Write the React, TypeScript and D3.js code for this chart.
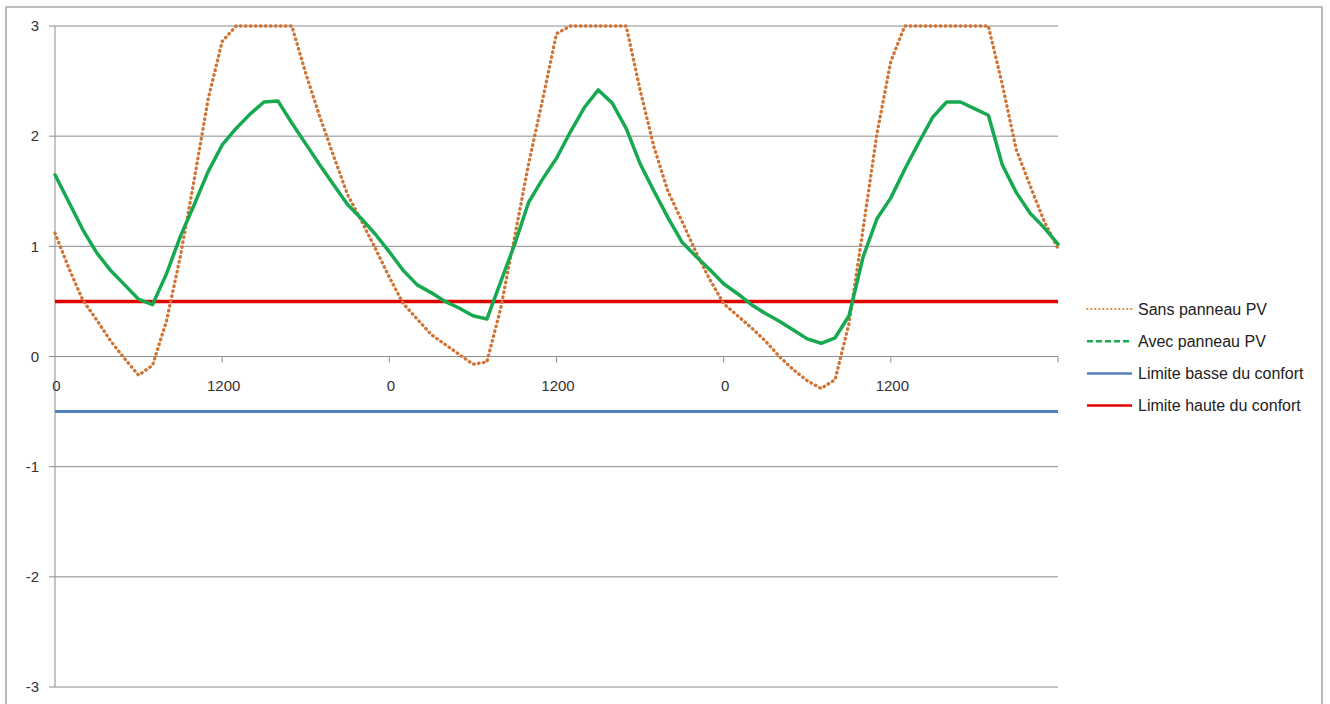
import React from "react";
import * as d3 from "d3";

// Hours 0..72 (three days), hourly readings
const hours: number[] = Array.from({ length: 73 }, (_, i) => i);

const sansPanneau: number[] = [
  1.12, 0.8, 0.51, 0.33, 0.14, -0.02, -0.17, -0.08, 0.32, 0.91, 1.61, 2.34, 2.86,
  3, 3, 3, 3, 3, 2.57, 2.18, 1.82, 1.47, 1.23, 0.98,
  0.72, 0.48, 0.34, 0.2, 0.11, 0.02, -0.07, -0.05, 0.44, 1.09, 1.75, 2.33,
  2.93, 3, 3, 3, 3, 3, 2.42, 1.9, 1.5, 1.23, 0.95, 0.7,
  0.48, 0.37, 0.26, 0.14, 0.0, -0.12, -0.22, -0.29, -0.21, 0.3, 1.15, 2.02,
  2.68, 3, 3, 3, 3, 3, 3, 3, 2.47, 1.88, 1.55, 1.23, 0.98,
];

const avecPanneau: number[] = [
  1.65, 1.4, 1.15, 0.94, 0.78, 0.65, 0.52, 0.47, 0.75, 1.09, 1.38, 1.68, 1.92,
  2.07, 2.2, 2.31, 2.32, 2.12, 1.93, 1.74, 1.56, 1.38, 1.25, 1.11,
  0.95, 0.78, 0.65, 0.58, 0.5, 0.44, 0.37, 0.34, 0.68, 1.02, 1.4, 1.61,
  1.8, 2.04, 2.26, 2.42, 2.3, 2.07, 1.75, 1.5, 1.26, 1.04, 0.91, 0.79,
  0.66, 0.57, 0.47, 0.39, 0.32, 0.24, 0.16, 0.12, 0.17, 0.37, 0.9, 1.25,
  1.44, 1.7, 1.94, 2.17, 2.31, 2.31, 2.25, 2.19, 1.74, 1.49, 1.3, 1.17, 1.02,
];

const limiteBasse = -0.5;
const limiteHaute = 0.5;

const yTicks: number[] = [-3, -2, -1, 0, 1, 2, 3];
const xLabelHours: number[] = [0, 12, 24, 36, 48, 60];
const xLabels: string[] = ["0", "1200", "0", "1200", "0", "1200"];
const xTickHours: number[] = [12, 24, 36, 48, 60, 72];

const legendItems = [
  { label: "Sans panneau PV", color: "#E0944E", dash: "0.5 3.5", width: 2, cap: "round" },
  { label: "Avec panneau PV", color: "#17A94F", dash: "6 3", width: 2.5, cap: "butt" },
  { label: "Limite basse du confort", color: "#4F81BD", dash: "", width: 2.5, cap: "butt" },
  { label: "Limite haute du confort", color: "#E00000", dash: "", width: 2.5, cap: "butt" },
];

export default function App() {
  const W = 1330;
  const H = 704;
  const x = d3.scaleLinear().domain([0, 72]).range([55, 1058]);
  const y = d3.scaleLinear().domain([-3, 3]).range([687, 26]);
  const grid = "#8C8C8C";
  const font = "'Liberation Sans', Arial, sans-serif";

  const line = d3
    .line<number>()
    .x((_, i) => x(hours[i]))
    .y((d) => y(d));

  return (
    <svg
      width={W}
      height={H}
      style={{ position: "absolute", left: 0, top: 0, background: "#fff" }}
    >
      <rect x={0} y={0} width={W} height={H} fill="#fff" />
      <rect x={6} y={7} width={1316} height={720} fill="#fff" stroke="#A6A6A6" strokeWidth={1.5} />

      {/* horizontal gridlines + y ticks */}
      {yTicks.map((t) => (
        <g key={"y" + t}>
          <line x1={x(0)} x2={x(72)} y1={y(t)} y2={y(t)} stroke={grid} strokeWidth={1} />
          <line x1={x(0) - 6} x2={x(0)} y1={y(t)} y2={y(t)} stroke={grid} strokeWidth={1} />
          <text
            x={39}
            y={y(t)}
            dy="0.35em"
            textAnchor="end"
            fontFamily={font}
            fontSize={15}
            fill="#333"
          >
            {t}
          </text>
        </g>
      ))}
      {/* y axis */}
      <line x1={x(0)} x2={x(0)} y1={y(3)} y2={y(-3)} stroke={grid} strokeWidth={1} />

      {/* x ticks */}
      {xTickHours.map((h) => (
        <line key={"xt" + h} x1={x(h)} x2={x(h)} y1={y(0)} y2={y(0) + 6} stroke={grid} strokeWidth={1} />
      ))}
      {xLabelHours.map((h, i) => (
        <text
          key={"xl" + i}
          x={x(h) + 1.5}
          y={y(0) + 34}
          textAnchor="middle"
          fontFamily={font}
          fontSize={15}
          fill="#333"
        >
          {xLabels[i]}
        </text>
      ))}

      {/* comfort limits */}
      <line x1={x(0)} x2={x(72)} y1={y(limiteBasse)} y2={y(limiteBasse)} stroke="#4F81BD" strokeWidth={3} />
      <line x1={x(0)} x2={x(72)} y1={y(limiteHaute)} y2={y(limiteHaute)} stroke="#E00000" strokeWidth={3.5} />

      {/* series */}
      <path
        d={line(sansPanneau) || ""}
        fill="none"
        stroke="#CF7434"
        strokeWidth={3.3}
        strokeDasharray="0.6 4.4"
        strokeLinecap="round"
        strokeLinejoin="round"
      />
      <path
        d={line(avecPanneau) || ""}
        fill="none"
        stroke="#17A94F"
        strokeWidth={3.5}
        strokeLinejoin="round"
        strokeLinecap="round"
      />

      {/* legend */}
      {legendItems.map((it, i) => {
        const cy = 309 + i * 32.2;
        return (
          <g key={"lg" + i}>
            <line
              x1={1087}
              x2={1132}
              y1={cy}
              y2={cy}
              stroke={it.color}
              strokeWidth={it.width}
              strokeLinecap={it.cap as any}
              strokeDasharray={it.dash || undefined}
            />
            <text x={1138} y={cy} dy="0.35em" fontFamily={font} fontSize={16} fill="#222">
              {it.label}
            </text>
          </g>
        );
      })}
    </svg>
  );
}
